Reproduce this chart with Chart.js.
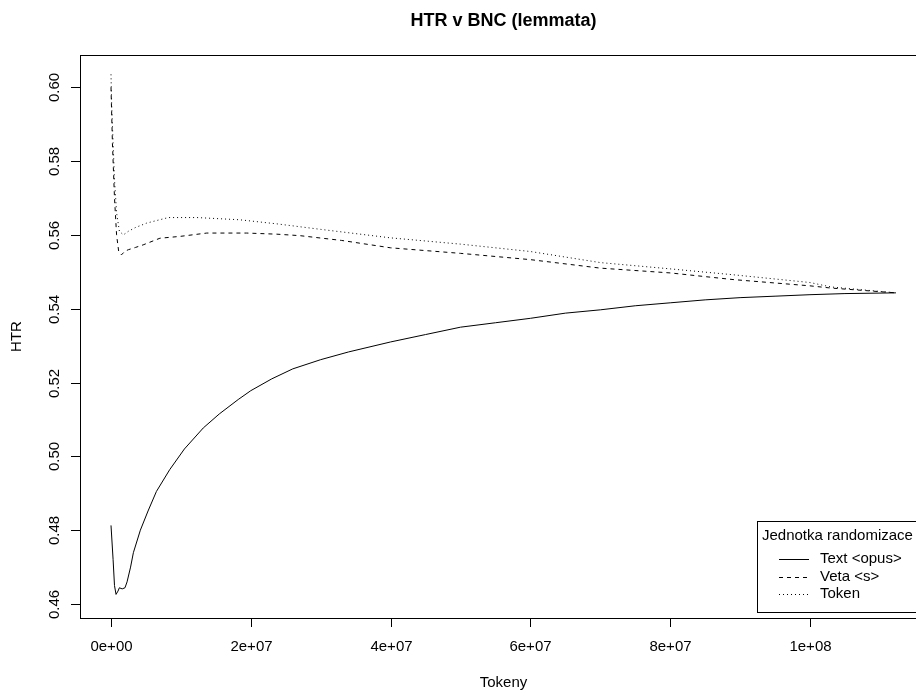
<!DOCTYPE html>
<html>
<head>
<meta charset="utf-8">
<script src="https://cdn.jsdelivr.net/npm/chart.js@4"></script>
<style>
  html, body { margin: 0; padding: 0; background: #fff; overflow: hidden; }
  canvas { display: block; }
</style>
</head>
<body>
<canvas id="htrChart" width="935" height="690"></canvas>
<script>
// hodnoty (x = tokeny, y = HTR)
const textX = [0, 0.3e6, 0.5e6, 0.72e6, 1.0e6, 1.2e6, 1.6e6, 2.0e6, 2.3e6, 2.8e6, 3.2e6, 4.2e6, 5.3e6, 6.5e6, 8.4e6,
  10.5e6, 13.2e6, 15.5e6, 18.2e6, 20e6, 23e6, 26e6, 30e6, 34e6, 40e6, 45e6, 50e6, 55e6, 60e6, 65e6, 70e6,
  75e6, 80e6, 85e6, 90e6, 95e6, 100e6, 105e6, 112.3e6];
const textY = [0.4813, 0.472, 0.465, 0.4626, 0.4635, 0.4644, 0.4641, 0.4644, 0.4660, 0.4700, 0.4739, 0.4800, 0.4852, 0.4905, 0.4964,
  0.5020, 0.5077, 0.5115, 0.5154, 0.5178, 0.5210, 0.5237, 0.5262, 0.5283, 0.5310, 0.5330, 0.5350, 0.5362, 0.5374, 0.5388, 0.5397,
  0.5408, 0.5416, 0.5424, 0.5430, 0.5434, 0.5438, 0.5441, 0.5443];

const vetaX = [0, 0.2e6, 0.5e6, 0.8e6, 1.1e6, 1.5e6, 2.0e6, 2.5e6, 3.5e6, 4.6e6, 7.0e6, 9.9e6, 13.7e6, 19.4e6, 23.7e6,
  27e6, 33e6, 40e6, 50e6, 60e6, 70e6, 80e6, 89e6, 100e6, 103e6, 112.3e6];
const vetaY = [0.600, 0.585, 0.570, 0.560, 0.5555, 0.5546, 0.5556, 0.5560, 0.5566, 0.5573, 0.5591, 0.5596, 0.5605, 0.5605, 0.5602,
  0.5598, 0.5585, 0.5565, 0.5550, 0.5533, 0.5510, 0.5497, 0.5479, 0.5462, 0.5456, 0.5443];

const tokenX = [0, 0.1e6, 0.3e6, 0.5e6, 0.8e6, 1.2e6, 1.77e6, 2.5e6, 3.5e6, 5.1e6, 8.2e6, 12.3e6, 18.4e6, 23.7e6,
  30e6, 40e6, 50e6, 60e6, 70e6, 80e6, 89e6, 100e6, 103e6, 112.3e6];
const tokenY = [0.6035, 0.595, 0.585, 0.575, 0.566, 0.561, 0.5600, 0.5610, 0.5620, 0.5632, 0.5647, 0.5647, 0.5641, 0.5630,
  0.5615, 0.5592, 0.5575, 0.5555, 0.5525, 0.5508, 0.5492, 0.5471, 0.5459, 0.5443];

const xTicks = [0, 2e7, 4e7, 6e7, 8e7, 1e8];
const xTickLabels = ['0e+00', '2e+07', '4e+07', '6e+07', '8e+07', '1e+08'];
const yTicks = [0.46, 0.48, 0.50, 0.52, 0.54, 0.56, 0.58, 0.60];
const yTickLabels = ['0.46', '0.48', '0.50', '0.52', '0.54', '0.56', '0.58', '0.60'];

const seriesNames = ['Text <opus>', 'Veta <s>', 'Token'];
const seriesDash = [[], [4, 4], [1, 3]];

const FONT = '"Liberation Sans", Arial, Helvetica, sans-serif';

function toPoints(xs, ys) {
  return xs.map((x, i) => ({ x: x, y: ys[i] }));
}

// R-style box, osy, popisky a legenda
const rAxes = {
  id: 'rAxes',
  afterDraw(chart) {
    const ctx = chart.ctx;
    const a = chart.chartArea;
    const sx = chart.scales.x;
    const sy = chart.scales.y;
    ctx.save();
    ctx.strokeStyle = '#000';
    ctx.fillStyle = '#000';
    ctx.lineWidth = 1;
    ctx.setLineDash([]);
    ctx.strokeRect(Math.round(a.left) + 0.5, Math.round(a.top) + 0.5,
      Math.round(a.right - a.left), Math.round(a.bottom - a.top));

    // osa x
    ctx.font = '15px ' + FONT;
    ctx.textAlign = 'center';
    ctx.textBaseline = 'middle';
    xTicks.forEach((v, i) => {
      const px = Math.round(sx.getPixelForValue(v)) + 0.5;
      ctx.beginPath();
      ctx.moveTo(px, a.bottom);
      ctx.lineTo(px, a.bottom + 9);
      ctx.stroke();
      ctx.fillText(xTickLabels[i], px, 647);
    });

    // osa y
    yTicks.forEach((v, i) => {
      const py = Math.round(sy.getPixelForValue(v)) + 0.5;
      ctx.beginPath();
      ctx.moveTo(a.left - 9, py);
      ctx.lineTo(a.left, py);
      ctx.stroke();
      ctx.save();
      ctx.translate(55, py);
      ctx.rotate(-Math.PI / 2);
      ctx.fillText(yTickLabels[i], 0, 0);
      ctx.restore();
    });

    // popisky os
    ctx.fillText('Tokeny', (a.left + a.right) / 2, 683);
    ctx.save();
    ctx.translate(17, (a.top + a.bottom) / 2);
    ctx.rotate(-Math.PI / 2);
    ctx.fillText('HTR', 0, 0);
    ctx.restore();

    // titulek
    ctx.font = 'bold 18px ' + FONT;
    ctx.fillText('HTR v BNC (lemmata)', (a.left + a.right) / 2, 21);

    // legenda
    ctx.fillStyle = '#fff';
    ctx.fillRect(757.5, 521.5, 200, 91);
    ctx.strokeRect(757.5, 521.5, 200, 91);
    ctx.fillStyle = '#000';
    ctx.font = '15px ' + FONT;
    ctx.textAlign = 'left';
    ctx.fillText('Jednotka randomizace', 762, 536);
    const rows = [559, 577, 594];
    seriesNames.forEach((name, i) => {
      ctx.setLineDash(seriesDash[i]);
      ctx.beginPath();
      ctx.moveTo(779, rows[i] + 0.5);
      ctx.lineTo(809, rows[i] + 0.5);
      ctx.stroke();
      ctx.setLineDash([]);
      ctx.fillText(name, 820, rows[i]);
    });
    ctx.restore();
  }
};

const ctx = document.getElementById('htrChart').getContext('2d');
new Chart(ctx, {
  type: 'line',
  data: {
    datasets: [
      { label: seriesNames[0], data: toPoints(textX, textY), borderDash: seriesDash[0] },
      { label: seriesNames[1], data: toPoints(vetaX, vetaY), borderDash: seriesDash[1] },
      { label: seriesNames[2], data: toPoints(tokenX, tokenY), borderDash: seriesDash[2] }
    ].map(d => Object.assign(d, {
      borderColor: '#000',
      borderWidth: 1,
      pointRadius: 0,
      tension: 0,
      fill: false
    }))
  },
  options: {
    responsive: false,
    animation: false,
    devicePixelRatio: 1,
    layout: { padding: { left: 80, top: 55, right: 8, bottom: 72 } },
    plugins: { legend: { display: false }, title: { display: false }, tooltip: { enabled: false } },
    scales: {
      x: { type: 'linear', display: false, min: -4.435e6, max: 116.74e6 },
      y: { type: 'linear', display: false, min: 0.45621, max: 0.60874 }
    }
  },
  plugins: [rAxes]
});
</script>
</body>
</html>
